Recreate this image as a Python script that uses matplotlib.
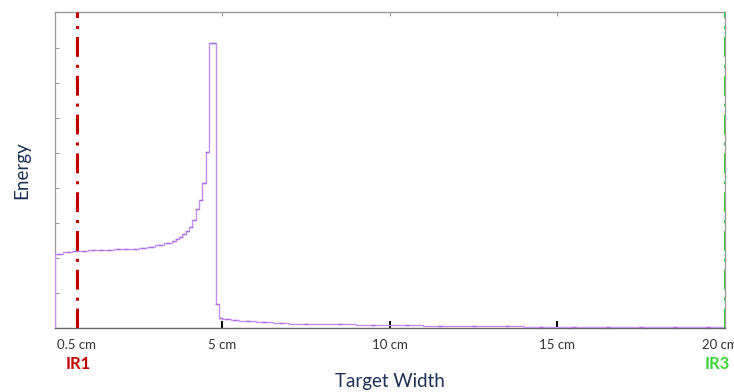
import numpy as np
import matplotlib
matplotlib.use("Agg")
import matplotlib.pyplot as plt
from matplotlib.transforms import blended_transform_factory, ScaledTranslation

# Histogram of deposited energy along the target width (bin edges in cm)
bin_edges_cm = [0.0, 0.25, 0.5, 0.75, 1.0, 1.25, 1.5, 1.75, 2.0, 2.25, 2.5,
                2.75, 3.0, 3.25, 3.5, 3.6, 3.7, 3.8, 3.9, 4.0, 4.1, 4.2,
                4.3, 4.4, 4.5, 4.6, 4.7, 4.8, 4.9, 5.0, 5.25, 5.5, 6.0,
                6.5, 7.0, 8.0, 9.0, 10.0, 11.0, 12.0, 13.0, 14.0, 15.0,
                16.0, 17.0, 18.0, 19.0, 20.0]
energy = [2.12, 2.17, 2.20, 2.21, 2.22, 2.23, 2.24, 2.25, 2.26, 2.27,
          2.29, 2.32, 2.36, 2.42, 2.48, 2.53, 2.60, 2.68, 2.78, 2.90,
          3.10, 3.40, 3.66, 4.13, 5.02, 8.13, 8.13, 0.69, 0.28, 0.25,
          0.22, 0.19, 0.16, 0.14, 0.12, 0.10, 0.085, 0.075, 0.065, 0.055,
          0.048, 0.042, 0.036, 0.032, 0.028, 0.025, 0.022]

tick_positions = [0.65, 5, 10, 15, 20]
tick_labels = ["0.5 cm", "5 cm", "10 cm", "15 cm", "20 cm"]

regions = ["IR1", "IR3"]
region_positions = [0.65, 20]
region_colors = ["#c00000", "#3cd43c"]

font = ["Lato", "DejaVu Sans"]
plt.rcParams["font.family"] = font

fig = plt.figure(figsize=(7.34, 3.92), dpi=100)
ax = fig.add_axes([0.0749, 0.1633, 0.9128, 0.8061])

edges = np.array(bin_edges_cm)
vals = np.array(energy)
ax.stairs(vals, edges, color="#c690f5", linewidth=1.0, zorder=3)
centers = 0.5 * (edges[:-1] + edges[1:])
ax.plot(centers, vals, linestyle="none", marker="_", markersize=2.5,
        markeredgewidth=1.0, color="#a872dc", zorder=4)

ax.set_xlim(0, 20)
ax.set_ylim(0, 9.03)

# Interaction-region markers
for pos, col in zip(region_positions, region_colors):
    ax.axvline(pos, color=col, linewidth=2.2,
               linestyle=(0, (6.5, 2.6, 1.0, 2.6)), zorder=5)

ax.set_xticks(tick_positions)
ax.set_xticklabels(tick_labels)
ax.set_yticks(np.arange(1, 9))
ax.set_yticklabels([])
ax.tick_params(axis="x", direction="in", length=5, width=1.4, color="black",
               labelsize=9.5, labelcolor="#333333", pad=8)
ax.tick_params(axis="y", direction="in", length=3, width=0.8, color="#999999")

# pull the last tick label slightly inward, as it sits at the figure edge
last = ax.get_xticklabels()[-1]
last.set_transform(last.get_transform() +
                   ScaledTranslation(-5 / 100, 0, fig.dpi_scale_trans))

top = ax.secondary_xaxis("top")
top.set_xticks(tick_positions[1:4])
top.set_xticklabels([])
top.tick_params(direction="in", length=3, width=0.8, color="#aaaaaa")
top.spines["top"].set_color("#999999")

for side in ["left", "top", "right"]:
    ax.spines[side].set_color("#999999")
    ax.spines[side].set_linewidth(0.9)
ax.spines["bottom"].set_color("#666666")
ax.spines["bottom"].set_linewidth(1.0)

trans = blended_transform_factory(ax.transData, fig.transFigure)
label_shift_px = [1, -8]
for name, pos, col, dx in zip(regions, region_positions, region_colors,
                              label_shift_px):
    t = trans + ScaledTranslation(dx / 100, 0, fig.dpi_scale_trans)
    ax.text(pos, 1 - 364 / 392, name, transform=t, color=col,
            fontsize=12, fontweight="bold", ha="center", va="center")

fig.text(0.531, 1 - 381 / 392, "Target Width", ha="center", va="center",
         fontsize=13.5, color="#1f3056")
fig.text(0.030, 1 - 170 / 392, "Energy", ha="center", va="center",
         rotation=90, fontsize=13.5, color="#1f3056")

fig.savefig("out.png", dpi=100)
